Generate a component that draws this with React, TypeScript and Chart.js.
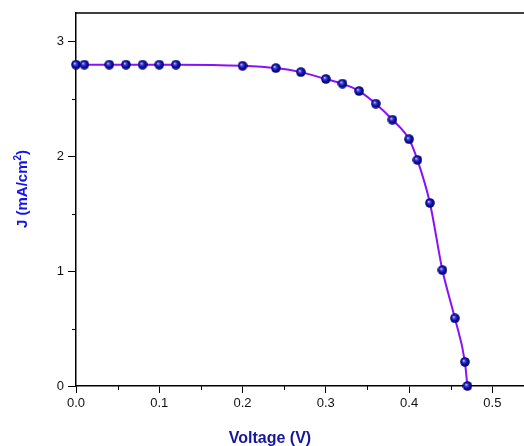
import React, { useEffect, useRef } from "react";
import { Chart, registerables } from "chart.js";

Chart.register(...registerables);

const voltage = [0, 0.01, 0.04, 0.06, 0.08, 0.1, 0.12, 0.2, 0.24, 0.27, 0.3, 0.32, 0.34, 0.36, 0.38, 0.4, 0.41, 0.425, 0.44, 0.455, 0.467, 0.47];
const currentJ = [2.8, 2.8, 2.8, 2.8, 2.8, 2.8, 2.8, 2.79, 2.77, 2.735, 2.675, 2.635, 2.57, 2.46, 2.32, 2.15, 1.97, 1.595, 1.01, 0.59, 0.21, 0];
const xTickValues = [0, 0.05, 0.1, 0.15, 0.2, 0.25, 0.3, 0.35, 0.4, 0.45, 0.5];
const yTickValues = [0, 0.5, 1, 1.5, 2, 2.5, 3];
const xLabels = ["0.0", "0.1", "0.2", "0.3", "0.4", "0.5"];
const yLabels = ["0", "1", "2", "3"];

function makeBall(): HTMLCanvasElement {
  const size = 10;
  const c = document.createElement("canvas");
  c.width = size;
  c.height = size;
  const ctx = c.getContext("2d")!;
  const r = size / 2;
  const g = ctx.createRadialGradient(r - 1.3, r - 1.3, 0.2, r, r, r);
  g.addColorStop(0, "#d8d8ff");
  g.addColorStop(0.22, "#4a4ad8");
  g.addColorStop(0.6, "#0c0ca6");
  g.addColorStop(1, "#00005a");
  ctx.fillStyle = g;
  ctx.beginPath();
  ctx.arc(r, r, r - 0.2, 0, Math.PI * 2);
  ctx.fill();
  return c;
}

const near = (v: number, step: number) => Math.abs(v / step - Math.round(v / step)) < 1e-6;

export default function App() {
  const ref = useRef<HTMLCanvasElement | null>(null);
  useEffect(() => {
    document.body.style.margin = "0";
    const canvas = ref.current!;
    const ball = makeBall();
    const extras = {
      id: "extras",
      afterDraw(chart: any) {
        const { ctx, chartArea } = chart;
        const xs = chart.scales.x;
        const ys = chart.scales.y;
        ctx.save();
        ctx.strokeStyle = "#000";
        ctx.lineWidth = 1.5;
        ctx.beginPath();
        ctx.moveTo(chartArea.left, chartArea.top);
        ctx.lineTo(chartArea.right, chartArea.top);
        ctx.stroke();
        ctx.lineWidth = 1;
        xs.ticks.forEach((t: any) => {
          if (!near(t.value, 0.1)) {
            const px = Math.round(xs.getPixelForValue(t.value)) + 0.5;
            ctx.beginPath();
            ctx.moveTo(px, chartArea.bottom);
            ctx.lineTo(px, chartArea.bottom + 4);
            ctx.stroke();
          }
        });
        ys.ticks.forEach((t: any) => {
          if (!near(t.value, 1)) {
            const py = Math.round(ys.getPixelForValue(t.value)) + 0.5;
            ctx.beginPath();
            ctx.moveTo(chartArea.left, py);
            ctx.lineTo(chartArea.left - 4, py);
            ctx.stroke();
          }
        });
        ctx.fillStyle = "#16169c";
        ctx.font = "bold 16px 'Liberation Sans', Arial, sans-serif";
        ctx.textAlign = "center";
        ctx.textBaseline = "middle";
        ctx.fillText("Voltage (V)", chartArea.left + 194, chartArea.bottom + 53);
        ctx.translate(22, chartArea.top + 176);
        ctx.rotate(-Math.PI / 2);
        ctx.fillStyle = "#1212f0";
        const main = "J (mA/cm";
        const f = "bold 15px 'Liberation Sans', Arial, sans-serif";
        const fs = "bold 10px 'Liberation Sans', Arial, sans-serif";
        ctx.font = f;
        const w1 = ctx.measureText(main).width;
        const w3 = ctx.measureText(")").width;
        ctx.font = fs;
        const w2 = ctx.measureText("2").width;
        const total = w1 + w2 + w3;
        const x0 = -total / 2;
        ctx.textAlign = "left";
        ctx.textBaseline = "alphabetic";
        ctx.font = f;
        ctx.fillText(main, x0, 5);
        ctx.font = fs;
        ctx.fillText("2", x0 + w1, -1);
        ctx.font = f;
        ctx.fillText(")", x0 + w1 + w2, 5);
        ctx.restore();
      },
    };
    const chart = new Chart(canvas, {
      type: "line",
      data: {
        datasets: [
          {
            data: voltage.map((v, i) => ({ x: v, y: currentJ[i] })),
            borderColor: "#8a10f8",
            borderWidth: 2,
            cubicInterpolationMode: "monotone",
            pointStyle: ball as any,
            pointRadius: 5,
            pointHoverRadius: 5,
            clip: false as any,
          },
        ],
      },
      options: {
        responsive: false,
        animation: false,
        events: [],
        layout: { autoPadding: false, padding: { top: 13, right: 0, left: 0, bottom: 0 } },
        plugins: { legend: { display: false }, tooltip: { enabled: false } },
        scales: {
          x: {
            type: "linear",
            min: 0,
            max: 0.538,
            afterFit: (s: any) => {
              s.height = 60;
              s.paddingRight = 0;
              s.paddingLeft = 0;
            },
            afterBuildTicks: (s: any) => {
              s.ticks = xTickValues.map((v) => ({ value: v }));
            },
            ticks: {
              autoSkip: false,
              maxRotation: 0,
              padding: 3,
              color: "#111",
              font: { family: "'Liberation Sans', Arial, sans-serif", size: 13 },
              callback: (v: any) => {
                const i = Math.round(Number(v) / 0.1);
                return near(Number(v), 0.1) ? xLabels[i] : "";
              },
            },
            grid: {
              drawOnChartArea: false,
              tickLength: 7,
              tickWidth: 1,
              tickColor: (c: any) => (c.tick && near(c.tick.value, 0.1) ? "#000" : "rgba(0,0,0,0)"),
            },
            border: { display: true, color: "#000", width: 1.5 },
          },
          y: {
            type: "linear",
            min: 0,
            max: 3.25,
            afterFit: (s: any) => {
              s.width = 76;
              s.paddingTop = 0;
              s.paddingBottom = 0;
            },
            afterBuildTicks: (s: any) => {
              s.ticks = yTickValues.map((v) => ({ value: v }));
            },
            ticks: {
              autoSkip: false,
              padding: 4,
              color: "#111",
              font: { family: "'Liberation Sans', Arial, sans-serif", size: 13 },
              callback: (v: any) => (near(Number(v), 1) ? yLabels[Math.round(Number(v))] : ""),
            },
            grid: {
              drawOnChartArea: false,
              tickLength: 8,
              tickWidth: 1,
              tickColor: (c: any) => (c.tick && near(c.tick.value, 1) ? "#000" : "rgba(0,0,0,0)"),
            },
            border: { display: true, color: "#000", width: 1.5 },
          },
        },
      },
      plugins: [extras],
    } as any);
    return () => chart.destroy();
  }, []);
  return (
    <div style={{ width: 524, height: 446, background: "#fff" }}>
      <canvas ref={ref} width={524} height={446} style={{ display: "block" }} />
    </div>
  );
}
